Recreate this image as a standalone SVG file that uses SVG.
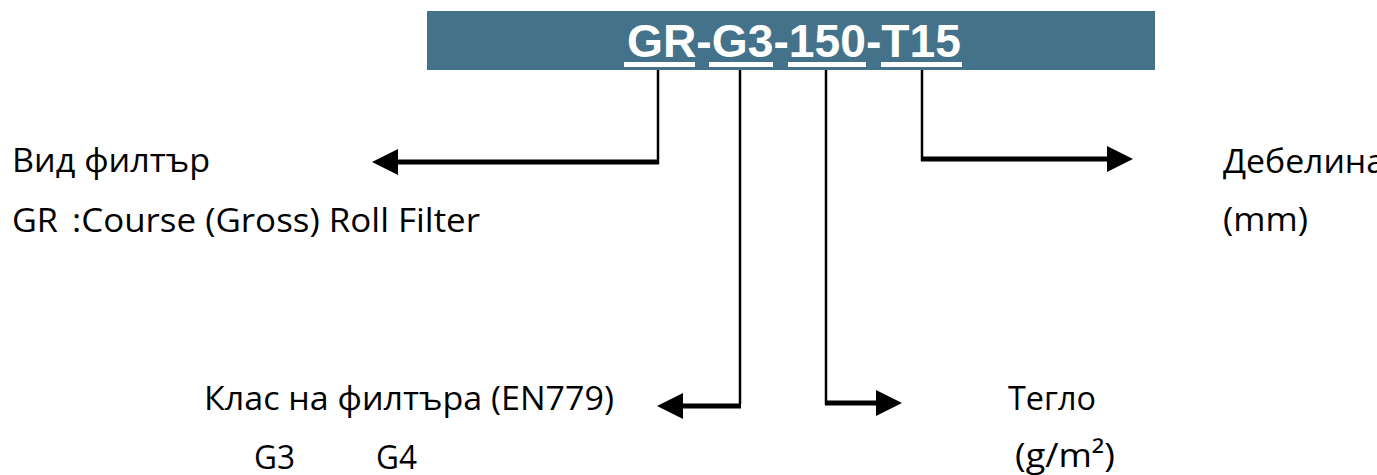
<svg xmlns="http://www.w3.org/2000/svg" width="1377" height="475" viewBox="0 0 1377 475">
<style>
.lbl{font-family:"Open Sans","Noto Sans","DejaVu Sans",sans-serif;font-size:33px;fill:#000}
.title{font-family:"Liberation Sans",Arial,sans-serif;font-size:46px;font-weight:bold;fill:#fff}
.v{stroke:#000;stroke-width:2.5;fill:none}
.h{stroke:#000;stroke-width:5;fill:none}
</style>
<defs>
<marker id="ah" viewBox="0 0 26 26" refX="0" refY="13" markerWidth="26" markerHeight="26" markerUnits="userSpaceOnUse" orient="auto">
<path d="M0,0 L26,13 L0,26 z" fill="#000"/>
</marker>
</defs>
<rect width="1377" height="475" fill="#fff"/>
<g id="code">
<rect x="427" y="11" width="728" height="59" fill="#44728A"/>
<text class="title" x="627" y="57" textLength="334" lengthAdjust="spacingAndGlyphs">GR-G3-150-T15</text>
<rect x="624" y="62" width="71" height="5" fill="#fff"/>
<rect x="709" y="62" width="64" height="5" fill="#fff"/>
<rect x="788" y="62" width="78" height="5" fill="#fff"/>
<rect x="881" y="62" width="81" height="5" fill="#fff"/>
</g>
<g id="connectors">
<line class="v" x1="658" y1="70" x2="658" y2="164"/>
<path class="h" d="M659,162 H398" marker-end="url(#ah)"/>
<line class="v" x1="740" y1="70" x2="740" y2="404"/>
<path class="h" d="M741,406 H683" marker-end="url(#ah)"/>
<line class="v" x1="826" y1="70" x2="826" y2="405"/>
<path class="h" d="M825,403 H876" marker-end="url(#ah)"/>
<line class="v" x1="922" y1="70" x2="922" y2="161"/>
<path class="h" d="M921,159 H1107" marker-end="url(#ah)"/>
</g>
<g id="type">
<text class="lbl" x="12" y="172" textLength="198" lengthAdjust="spacingAndGlyphs">Вид филтър</text>
<text class="lbl" x="12" y="232" textLength="46" lengthAdjust="spacingAndGlyphs">GR</text>
<text class="lbl" x="72" y="232" textLength="408" lengthAdjust="spacingAndGlyphs">:Course (Gross) Roll Filter</text>
</g>
<g id="class">
<text class="lbl" x="204" y="410" textLength="410" lengthAdjust="spacingAndGlyphs">Клас на филтъра (EN779)</text>
<text class="lbl" x="254" y="469" textLength="41" lengthAdjust="spacingAndGlyphs">G3</text>
<text class="lbl" x="376" y="469" textLength="41" lengthAdjust="spacingAndGlyphs">G4</text>
</g>
<g id="weight">
<text class="lbl" x="1008" y="410" textLength="88" lengthAdjust="spacingAndGlyphs">Тегло</text>
<text class="lbl" x="1015" y="467" textLength="100" lengthAdjust="spacingAndGlyphs">(g/m²)</text>
</g>
<g id="thickness">
<text class="lbl" x="1223" y="173" textLength="162" lengthAdjust="spacingAndGlyphs">Дебелина</text>
<text class="lbl" x="1223" y="231" textLength="85" lengthAdjust="spacingAndGlyphs">(mm)</text>
</g>
</svg>
